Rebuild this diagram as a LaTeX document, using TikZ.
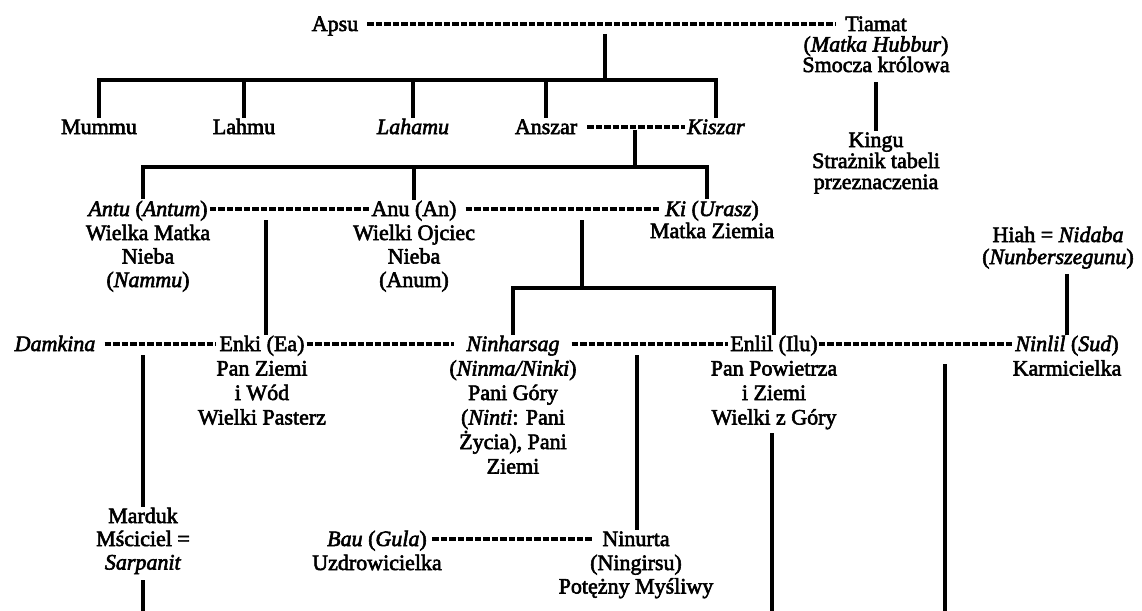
\documentclass[tikz,border=0pt]{standalone}
\usepackage{fontspec}
\setmainfont{Liberation Serif}[FakeBold=2.6]
\newcommand\fs{\fontsize{22pt}{23.5pt}\selectfont}
\newcommand\stk[2][23.5pt]{\vtop{\lineskiplimit=-100pt\lineskip=0pt\baselineskip=#1\let\\\cr\halign{\hfil##\hfil\cr#2\crcr}}}
\tikzset{
  nm/.style={anchor=base, inner sep=0pt, text height=16pt, text depth=2pt, font=\fs},
  ds/.style={anchor=base, inner sep=0pt, font=\fs},
  rel/.style={line width=3.2pt},
  marr/.style={line width=4pt, dash pattern=on 6.5pt off 2pt},
}
\begin{document}
\begin{tikzpicture}[x=1pt,y=-1pt]
\useasboundingbox (0,0) rectangle (1142,610);
\clip (0,0) rectangle (1142,610);
% generation 0
\node[nm] (apsu) at (335,31) {Apsu};
\node[nm] (tiamat) at (876,31) {Tiamat};
\node[ds] (tiamatd) at (876,51.5) {\stk[20.5pt]{(\textit{Matka Hubbur})\\Smocza królowa}};
% generation 1
\node[nm] (mummu) at (99,134) {Mummu};
\node[nm] (lahmu) at (244,134) {Lahmu};
\node[nm] (lahamu) at (413,134) {\textit{Lahamu}};
\node[nm] (anszar) at (546,134) {Anszar};
\node[nm] (kiszar) at (716,134) {\textit{Kiszar}};
\node[nm] (kingu) at (876,147) {Kingu};
\node[ds] (kingud) at (876,168) {\stk[21pt]{Strażnik tabeli\\przeznaczenia}};
% generation 2
\node[nm] (antu) at (148,216) {\textit{Antu} (\textit{Antum})};
\node[ds] (antud) at (148,240) {\stk{Wielka Matka\\Nieba\\(\textit{Nammu})}};
\node[nm] (anu) at (414,216) {Anu (An)};
\node[ds] (anud) at (414,240) {\stk{Wielki Ojciec\\Nieba\\(Anum)}};
\node[nm] (ki) at (712,216) {\textit{Ki} (\textit{Urasz})};
\node[ds] (kid) at (712,238) {\stk{Matka Ziemia}};
\node[nm] (hiah) at (1058,242) {Hiah = \textit{Nidaba}};
\node[ds] (hiahd) at (1058,264) {\stk{(\textit{Nunberszegunu})}};
% generation 3
\node[nm] (damkina) at (55,351) {\textit{Damkina}};
\node[nm] (enki) at (262,351) {Enki (Ea)};
\node[ds] (enkid) at (262,375.5) {\stk[24.5pt]{Pan Ziemi\\i Wód\\Wielki Pasterz}};
\node[nm] (ninharsag) at (513,351) {\textit{Ninharsag}};
\node[ds] (ninharsagd) at (513,375.5) {\stk[24.5pt]{(\textit{Ninma/Ninki})\\Pani Góry\\(\textit{Ninti}: Pani\\Życia), Pani\\Ziemi}};
\node[nm] (enlil) at (774,351) {Enlil (Ilu)};
\node[ds] (enlild) at (774,375.5) {\stk[24.5pt]{Pan Powietrza\\i Ziemi\\Wielki z Góry}};
\node[nm] (ninlil) at (1067,351) {\textit{Ninlil} (\textit{Sud})};
\node[ds] (ninlild) at (1067,375.5) {\stk{Karmicielka}};
% generation 4
\node[nm] (marduk) at (143,523) {Marduk};
\node[ds] (mardukd) at (143,546) {\stk{Mściciel =\\\textit{Sarpanit}}};
\node[nm] (bau) at (377,546) {\textit{Bau} (\textit{Gula})};
\node[ds] (baud) at (377,570) {\stk{Uzdrowicielka}};
\node[nm] (ninurta) at (636,546) {Ninurta};
\node[ds] (ninurtad) at (636,570) {\stk{(Ningirsu)\\Potężny Myśliwy}};
% marriages
\draw[marr, shorten <=9pt, shorten >=9pt] (apsu.east) -- (tiamat.west);
\draw[marr, shorten <=10pt, shorten >=2pt] (anszar.east) -- (kiszar.west);
\draw[marr, shorten <=2pt, shorten >=2pt] (antu.east) -- (anu.west);
\draw[marr, shorten <=9pt, shorten >=6pt] (anu.east) -- (ki.west);
\draw[marr, shorten <=9pt, shorten >=3pt] (damkina.east) -- (enki.west);
\draw[marr, shorten <=2pt, shorten >=12pt] (enki.east) -- (ninharsag.west);
\draw[marr, shorten <=12pt, shorten >=2pt] (ninharsag.east) -- (enlil.west);
\draw[marr, shorten <=1pt, shorten >=2pt] (enlil.east) -- (ninlil.west);
\draw[marr, shorten <=5pt, shorten >=10pt] (bau.east) -- (ninurta.west);
% descent
\coordinate (j1) at (605,34);
\coordinate (b1) at (605,80);
\draw[rel] (j1) -- (b1);
\draw[rel] (mummu.north) |- (kiszar.north |- b1) -- (kiszar.north);
\draw[rel] (lahmu.north) -- (lahmu.north |- b1);
\draw[rel] (lahamu.north) -- (lahamu.north |- b1);
\draw[rel] (anszar.north) -- (anszar.north |- b1);
\draw[rel] ([yshift=-10pt]tiamatd.south) -- (kingu.north);
\coordinate (j2) at (635,130);
\coordinate (b2) at (635,167);
\draw[rel] (j2) -- (b2);
\coordinate (antuT) at (143,199);
\coordinate (kiT) at (707,199);
\draw[rel] (antuT) |- (kiT |- b2) -- (kiT);
\draw[rel] (anu.north) -- (anu.north |- b2);
\coordinate (j3) at (266,220);
\draw[rel] (j3) -- (j3 |- enki.north);
\coordinate (j4) at (582,220);
\coordinate (b3) at (582,288);
\draw[rel] (j4) -- (b3);
\draw[rel] (ninharsag.north) |- (enlil.north |- b3) -- (enlil.north);
\coordinate (j5) at (143,355);
\draw[rel] (j5) -- (j5 |- marduk.north);
\coordinate (j6) at (637,355);
\draw[rel] (j6) -- (j6 |- ninurta.north);
\coordinate (j7) at (945,364);
\coordinate (e7) at (945,612);
\draw[rel] (j7) -- (e7);
\coordinate (s8) at (772,433);
\coordinate (e8) at (772,612);
\draw[rel] (s8) -- (e8);
\coordinate (e9) at (143,612);
\draw[rel] ([yshift=-6pt]mardukd.south) -- (e9);
\draw[rel] ([yshift=-5pt]ninlil.north |- hiahd.south) -- (ninlil.north);
\end{tikzpicture}
\end{document}
